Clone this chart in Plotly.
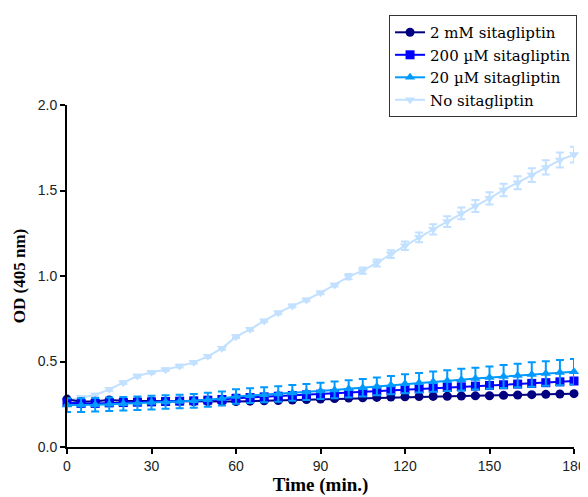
import plotly.graph_objects as go

time_min = list(range(0, 181, 5))

od_2mM = [0.280, 0.265, 0.268, 0.275, 0.270, 0.268, 0.268, 0.268, 0.267, 0.266,
          0.265, 0.265, 0.266, 0.268, 0.270, 0.272, 0.275, 0.278, 0.281, 0.283,
          0.286, 0.288, 0.290, 0.292, 0.294, 0.295, 0.296, 0.297, 0.298, 0.299,
          0.300, 0.302, 0.304, 0.306, 0.308, 0.310, 0.312]
err_2mM = [0.006] * 37

od_200uM = [0.260, 0.255, 0.255, 0.258, 0.260, 0.262, 0.264, 0.266, 0.268, 0.270,
            0.274, 0.278, 0.285, 0.289, 0.293, 0.297, 0.301, 0.305, 0.309, 0.313,
            0.317, 0.322, 0.327, 0.331, 0.336, 0.340, 0.344, 0.348, 0.352, 0.356,
            0.360, 0.364, 0.368, 0.372, 0.376, 0.381, 0.386]
err_200uM = [0.012] * 37

od_20uM = [0.245, 0.245, 0.247, 0.250, 0.253, 0.256, 0.260, 0.263, 0.266, 0.270,
           0.276, 0.283, 0.295, 0.300, 0.305, 0.310, 0.316, 0.322, 0.328, 0.334,
           0.340, 0.347, 0.354, 0.362, 0.370, 0.376, 0.382, 0.388, 0.394, 0.400,
           0.406, 0.412, 0.418, 0.424, 0.430, 0.435, 0.440]
err_20uM = [0.040, 0.040, 0.040, 0.040, 0.040, 0.040, 0.040, 0.040, 0.040, 0.040,
            0.041, 0.041, 0.042, 0.043, 0.044, 0.045, 0.046, 0.047, 0.048, 0.049,
            0.050, 0.051, 0.052, 0.053, 0.055, 0.057, 0.059, 0.061, 0.063, 0.064,
            0.065, 0.067, 0.069, 0.071, 0.072, 0.074, 0.075]

od_none = [0.270, 0.290, 0.304, 0.337, 0.376, 0.415, 0.437, 0.452, 0.473, 0.495,
           0.530, 0.577, 0.645, 0.688, 0.737, 0.785, 0.825, 0.860, 0.902, 0.947,
           0.996, 1.031, 1.076, 1.128, 1.177, 1.226, 1.273, 1.318, 1.366, 1.409,
           1.454, 1.503, 1.546, 1.590, 1.635, 1.678, 1.710]
err_none = [0.008] * 20 + [0.015, 0.018, 0.020, 0.023, 0.025, 0.028, 0.030, 0.032,
                           0.034, 0.035, 0.036, 0.037, 0.038, 0.040, 0.042, 0.044, 0.046]

series = [
    # name, values, errors, color, symbol, legend rank
    ("No sitagliptin", od_none, err_none, "#C2E0FF", "triangle-down", 4),
    ("2 mM sitagliptin", od_2mM, err_2mM, "#000080", "circle", 1),
    ("200 µM sitagliptin", od_200uM, err_200uM, "#0000FF", "square", 2),
    ("20 µM sitagliptin", od_20uM, err_20uM, "#0099FF", "triangle-up", 3),
]

fig = go.Figure()
for name, vals, errs, color, symbol, rank in series:
    fig.add_trace(go.Scatter(
        x=time_min, y=vals, name=name, mode="lines+markers",
        line=dict(color=color, width=2),
        marker=dict(color=color, symbol=symbol, size=9),
        error_y=dict(type="data", array=errs, visible=True, color=color,
                     thickness=2, width=4),
        cliponaxis=False, legendrank=rank,
    ))

# the page body adds an 8px offset, so the figure is 8px smaller on each side
fig.update_layout(
    width=580, height=489,
    margin=dict(l=59, r=14, t=97, b=50, autoexpand=False),
    paper_bgcolor="white", plot_bgcolor="white",
    showlegend=True,
    legend=dict(
        x=1.006, xanchor="right", y=1.263, yanchor="top",
        bgcolor="white", bordercolor="#333333", borderwidth=1,
        font=dict(family="DejaVu Serif", size=15, color="black"),
        tracegroupgap=0, itemwidth=30,
    ),
    xaxis=dict(
        range=[0, 180], tickvals=[0, 30, 60, 90, 120, 150, 180],
        showgrid=False, zeroline=False, showline=True, linecolor="black", linewidth=2,
        ticks="outside", ticklen=5, tickwidth=2, tickcolor="black",
        tickfont=dict(family="Liberation Sans", size=14, color="#222222"),
        automargin=False,
        title=dict(text="<b>Time (min.)</b>", standoff=4,
                   font=dict(family="Liberation Serif", size=19, color="black")),
    ),
    yaxis=dict(
        range=[0, 2.0], tickvals=[0, 0.5, 1.0, 1.5, 2.0], tickformat=".1f",
        showgrid=False, zeroline=False, showline=True, linecolor="black", linewidth=2,
        ticks="outside", ticklen=5, tickwidth=2, tickcolor="black",
        tickfont=dict(family="Liberation Sans", size=14, color="#222222"),
        automargin=False,
        title=dict(text="<b>OD (405 nm)</b>", standoff=8,
                   font=dict(family="Liberation Serif", size=17, color="black")),
    ),
)

fig.write_html("out.html")
